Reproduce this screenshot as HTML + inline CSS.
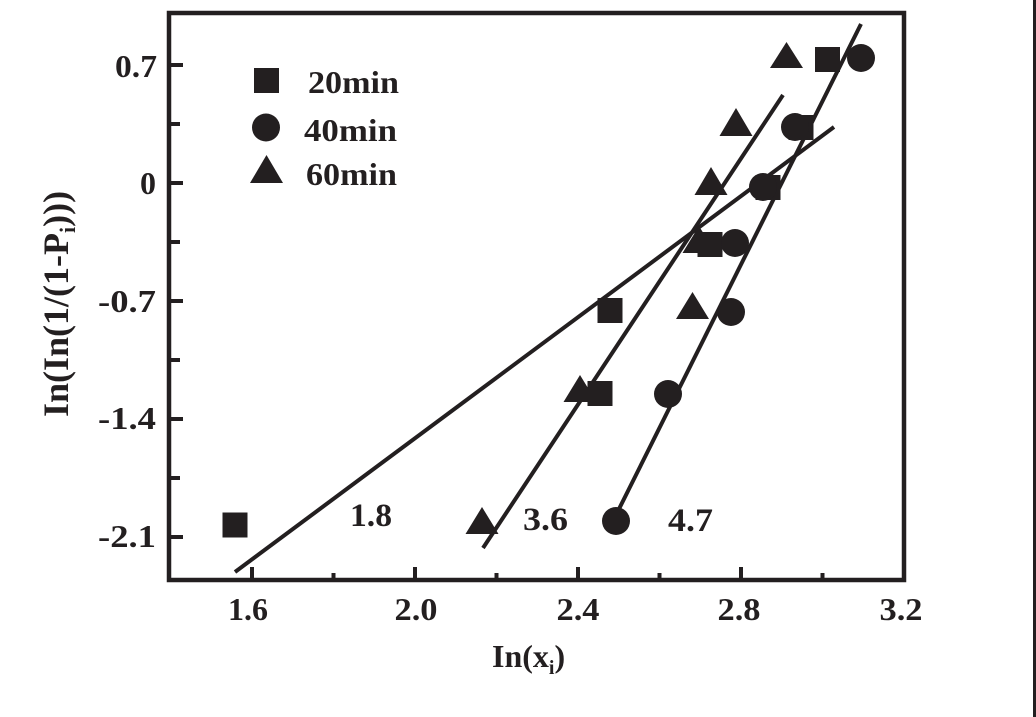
<!DOCTYPE html>
<html><head><meta charset="utf-8"><style>
html,body{margin:0;padding:0;background:#fff;}
svg{display:block;}
text{font-family:"Liberation Serif","Times New Roman",serif;font-weight:bold;fill:#231f20;}
</style></head><body>
<svg width="1036" height="717" viewBox="0 0 1036 717" xmlns="http://www.w3.org/2000/svg">
<rect x="0" y="0" width="1036" height="717" fill="#fff"/>
<rect x="1033" y="0" width="3" height="717" fill="#231f20"/>
<g stroke="#231f20" fill="none">
<rect x="169" y="13" width="735" height="567" stroke-width="4.5"/>
<!-- x ticks -->
<g stroke-width="4">
<line x1="252" y1="580" x2="252" y2="567"/>
<line x1="415" y1="580" x2="415" y2="567"/>
<line x1="578" y1="580" x2="578" y2="567"/>
<line x1="741" y1="580" x2="741" y2="567"/>
<line x1="333.5" y1="580" x2="333.5" y2="573"/>
<line x1="496.5" y1="580" x2="496.5" y2="573"/>
<line x1="659.5" y1="580" x2="659.5" y2="573"/>
<line x1="822.5" y1="580" x2="822.5" y2="573"/>
<!-- y ticks -->
<line x1="169" y1="65" x2="183" y2="65"/>
<line x1="169" y1="183" x2="183" y2="183"/>
<line x1="169" y1="301" x2="183" y2="301"/>
<line x1="169" y1="419" x2="183" y2="419"/>
<line x1="169" y1="537" x2="183" y2="537"/>
<line x1="169" y1="124" x2="180" y2="124"/>
<line x1="169" y1="242" x2="180" y2="242"/>
<line x1="169" y1="360" x2="180" y2="360"/>
<line x1="169" y1="478" x2="180" y2="478"/>
</g>
<!-- fit lines -->
<g stroke-width="4">
<line x1="235" y1="572" x2="834" y2="127"/>
<line x1="483" y1="548" x2="783" y2="95"/>
<line x1="616" y1="515" x2="861" y2="24"/>
</g>
</g>
<g fill="#231f20">
<!-- 20min squares -->
<rect x="222.5" y="512.5" width="25" height="25"/>
<rect x="587.5" y="381" width="25" height="25"/>
<rect x="597.5" y="298" width="25" height="25"/>
<rect x="697.5" y="232" width="25" height="25"/>
<rect x="755.5" y="175" width="25" height="25"/>
<rect x="788.5" y="115" width="25" height="25"/>
<rect x="815" y="47" width="25" height="25"/>
<!-- 40min circles -->
<circle cx="616" cy="521" r="14"/>
<circle cx="668" cy="394" r="14"/>
<circle cx="731" cy="312" r="14"/>
<circle cx="735" cy="243" r="14"/>
<circle cx="763" cy="187" r="14"/>
<circle cx="795" cy="127" r="14"/>
<circle cx="861" cy="58" r="14"/>
<!-- 60min triangles -->
<polygon points="482,507 498.5,534 465.5,534"/>
<polygon points="580,375 596.5,402 563.5,402"/>
<polygon points="692.5,292 709,319 676,319"/>
<polygon points="699,226 715.5,253 682.5,253"/>
<polygon points="711,167 727.5,195 694.5,195"/>
<polygon points="736,108 752.5,136 719.5,136"/>
<polygon points="786.5,42 803,68 770,68"/>
<!-- legend markers -->
<rect x="254" y="68" width="25" height="25"/>
<circle cx="266" cy="127.5" r="14"/>
<polygon points="266.5,155 283,183 250,183"/>
</g>
<!-- legend text -->
<text x="308" y="93" font-size="32" textLength="91" lengthAdjust="spacingAndGlyphs">20min</text>
<text x="304" y="141" font-size="32" textLength="93" lengthAdjust="spacingAndGlyphs">40min</text>
<text x="306" y="185" font-size="32" textLength="91" lengthAdjust="spacingAndGlyphs">60min</text>
<!-- slope labels -->
<text x="350" y="526" font-size="33" textLength="42" lengthAdjust="spacingAndGlyphs">1.8</text>
<text x="523" y="530" font-size="33" textLength="45" lengthAdjust="spacingAndGlyphs">3.6</text>
<text x="668" y="531" font-size="33" textLength="45" lengthAdjust="spacingAndGlyphs">4.7</text>
<!-- x tick labels -->
<g font-size="32" text-anchor="middle">
<text x="248" y="620" textLength="40" lengthAdjust="spacingAndGlyphs">1.6</text>
<text x="416" y="620" textLength="43" lengthAdjust="spacingAndGlyphs">2.0</text>
<text x="578" y="620" textLength="43" lengthAdjust="spacingAndGlyphs">2.4</text>
<text x="739" y="620" textLength="43" lengthAdjust="spacingAndGlyphs">2.8</text>
<text x="901" y="620" textLength="43" lengthAdjust="spacingAndGlyphs">3.2</text>
</g>
<!-- y tick labels -->
<g font-size="32" text-anchor="end">
<text x="157" y="77" textLength="42" lengthAdjust="spacingAndGlyphs">0.7</text>
<text x="156" y="194">0</text>
<text x="156" y="312" textLength="58" lengthAdjust="spacingAndGlyphs">-0.7</text>
<text x="156" y="429" textLength="58" lengthAdjust="spacingAndGlyphs">-1.4</text>
<text x="156" y="547" textLength="58" lengthAdjust="spacingAndGlyphs">-2.1</text>
</g>
<!-- axis titles -->
<text x="492" y="667" font-size="32">In(x<tspan font-size="20" dy="7">i</tspan><tspan dy="-7">)</tspan></text>
<g transform="translate(68,417) rotate(-90)">
<text x="0" y="0" font-size="36">In(In(1/(1-P<tspan font-size="22" dy="7">i</tspan><tspan dy="-7">)))</tspan></text>
</g>
</svg>
</body></html>
